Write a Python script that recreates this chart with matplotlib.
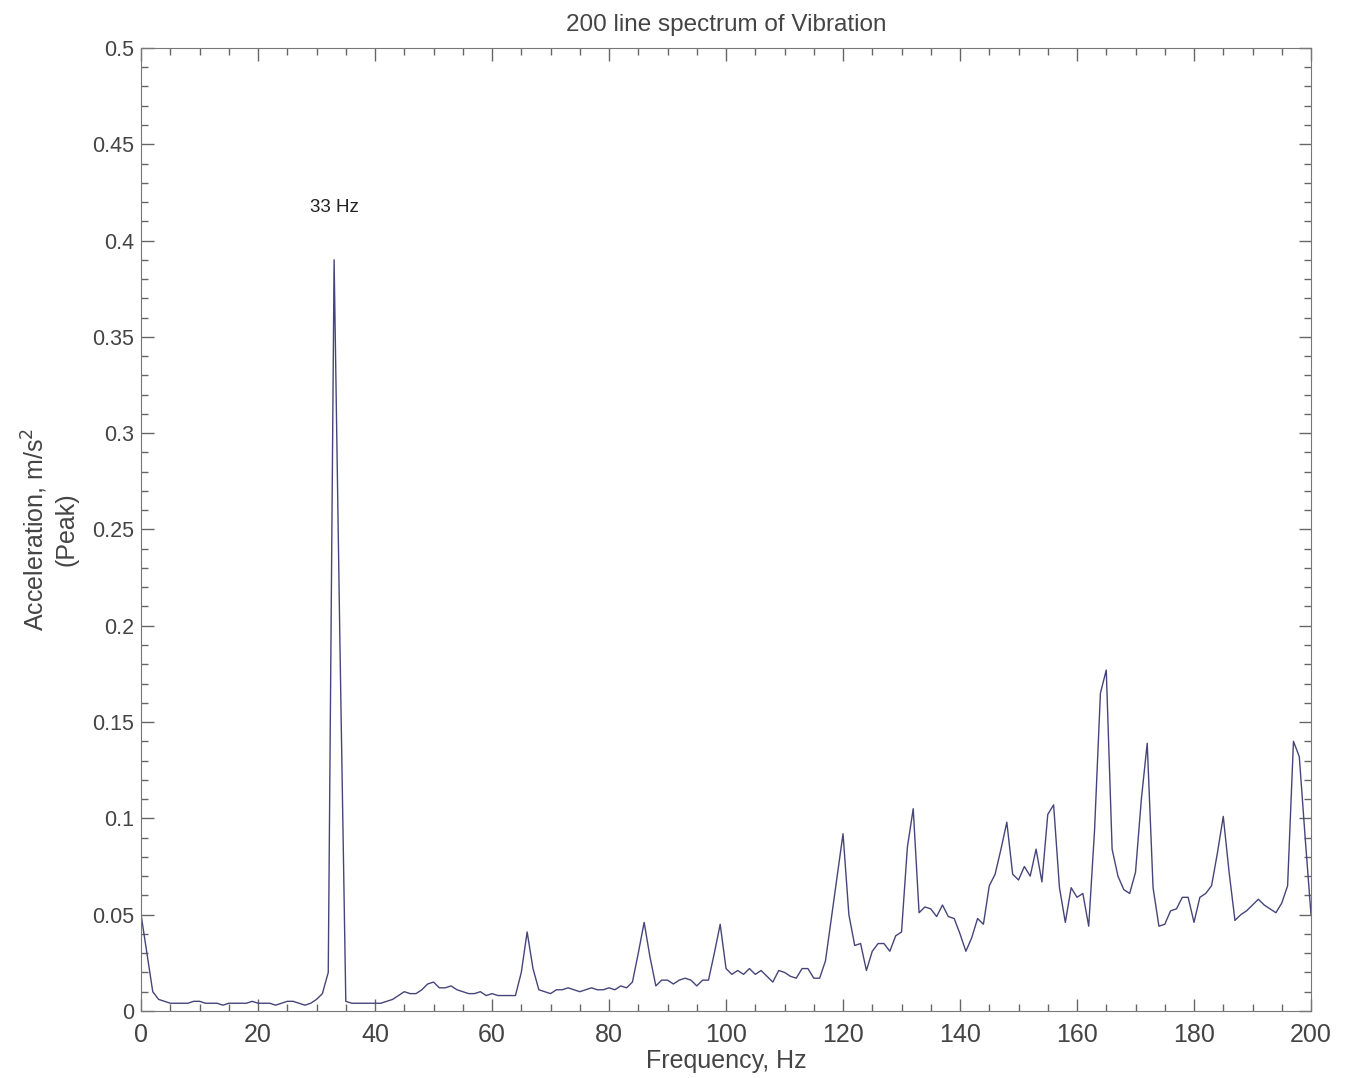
import numpy as np
import matplotlib
matplotlib.use('Agg')
import matplotlib.pyplot as plt
from matplotlib.ticker import MultipleLocator

plt.rcParams['font.family'] = ['Liberation Sans', 'DejaVu Sans']

# spectrum values, one per Hz (0..200)
freq = np.arange(0, 201)
accel = [
    0.050, 0.030, 0.010, 0.006, 0.005, 0.004, 0.004, 0.004, 0.004, 0.005,
    0.005, 0.004, 0.004, 0.004, 0.003, 0.004, 0.004, 0.004, 0.004, 0.005,
    0.004, 0.004, 0.004, 0.003, 0.004, 0.005, 0.005, 0.004, 0.003, 0.004,
    0.006, 0.009, 0.020, 0.390, 0.190, 0.005, 0.004, 0.004, 0.004, 0.004,
    0.004, 0.004, 0.005, 0.006, 0.008, 0.010, 0.009, 0.009, 0.011, 0.014,
    0.015, 0.012, 0.012, 0.013, 0.011, 0.010, 0.009, 0.009, 0.010, 0.008,
    0.009, 0.008, 0.008, 0.008, 0.008, 0.020, 0.041, 0.022, 0.011, 0.010,
    0.009, 0.011, 0.011, 0.012, 0.011, 0.010, 0.011, 0.012, 0.011, 0.011,
    0.012, 0.011, 0.013, 0.012, 0.015, 0.030, 0.046, 0.028, 0.013, 0.016,
    0.016, 0.014, 0.016, 0.017, 0.016, 0.013, 0.016, 0.016, 0.030, 0.045,
    0.022, 0.019, 0.021, 0.019, 0.022, 0.019, 0.021, 0.018, 0.015, 0.021,
    0.020, 0.018, 0.017, 0.022, 0.022, 0.017, 0.017, 0.026, 0.048, 0.070,
    0.092, 0.050, 0.034, 0.035, 0.021, 0.031, 0.035, 0.035, 0.031, 0.039,
    0.041, 0.085, 0.105, 0.051, 0.054, 0.053, 0.049, 0.055, 0.049, 0.048,
    0.040, 0.031, 0.038, 0.048, 0.045, 0.065, 0.071, 0.084, 0.098, 0.071,
    0.068, 0.075, 0.070, 0.084, 0.067, 0.102, 0.107, 0.064, 0.046, 0.064,
    0.059, 0.061, 0.044, 0.094, 0.165, 0.177, 0.084, 0.070, 0.063, 0.061,
    0.072, 0.110, 0.139, 0.064, 0.044, 0.045, 0.052, 0.053, 0.059, 0.059,
    0.046, 0.059, 0.061, 0.065, 0.082, 0.101, 0.072, 0.047, 0.050, 0.052,
    0.055, 0.058, 0.055, 0.053, 0.051, 0.056, 0.065, 0.140, 0.132, 0.090,
    0.050,
]
peak_label = '33 Hz'
peak_pos = (33, 0.417)

txt = '#444444'
fig = plt.figure(figsize=(13.46, 10.78), dpi=100)
ax = fig.add_axes([0.1048, 0.0622, 0.8692, 0.8933])

ax.plot(freq, accel, color='#45457a', linewidth=1.0)
ax.text(peak_pos[0], peak_pos[1], peak_label, ha='center', va='center',
        fontsize=13.5, color='#222222')

ax.set_xlim(0, 200)
ax.set_ylim(0, 0.5)
ax.xaxis.set_major_locator(MultipleLocator(20))
ax.xaxis.set_minor_locator(MultipleLocator(5))
ax.yaxis.set_major_locator(MultipleLocator(0.05))
ax.yaxis.set_minor_locator(MultipleLocator(0.01))
ax.set_yticklabels(['0' if abs(v) < 1e-9 else ('%g' % v) for v in ax.get_yticks()])

ax.tick_params(which='both', direction='in', top=True, right=True,
               colors='#666666', labelcolor=txt)
ax.tick_params(axis='x', labelsize=18, pad=9)
ax.tick_params(axis='y', labelsize=15.5, pad=5)
ax.tick_params(which='major', length=9, width=1)
ax.tick_params(which='minor', length=5, width=1)
for s in ax.spines.values():
    s.set_color('#777777')

ax.set_title('200 line spectrum of Vibration', fontsize=17.5, color=txt, pad=12)
ax.set_xlabel('Frequency, Hz', fontsize=18, color=txt, labelpad=1)
ax.set_ylabel('Acceleration, m/s$^2$\n(Peak)', fontsize=18, color=txt, labelpad=10)

fig.savefig('out.png', dpi=100)
